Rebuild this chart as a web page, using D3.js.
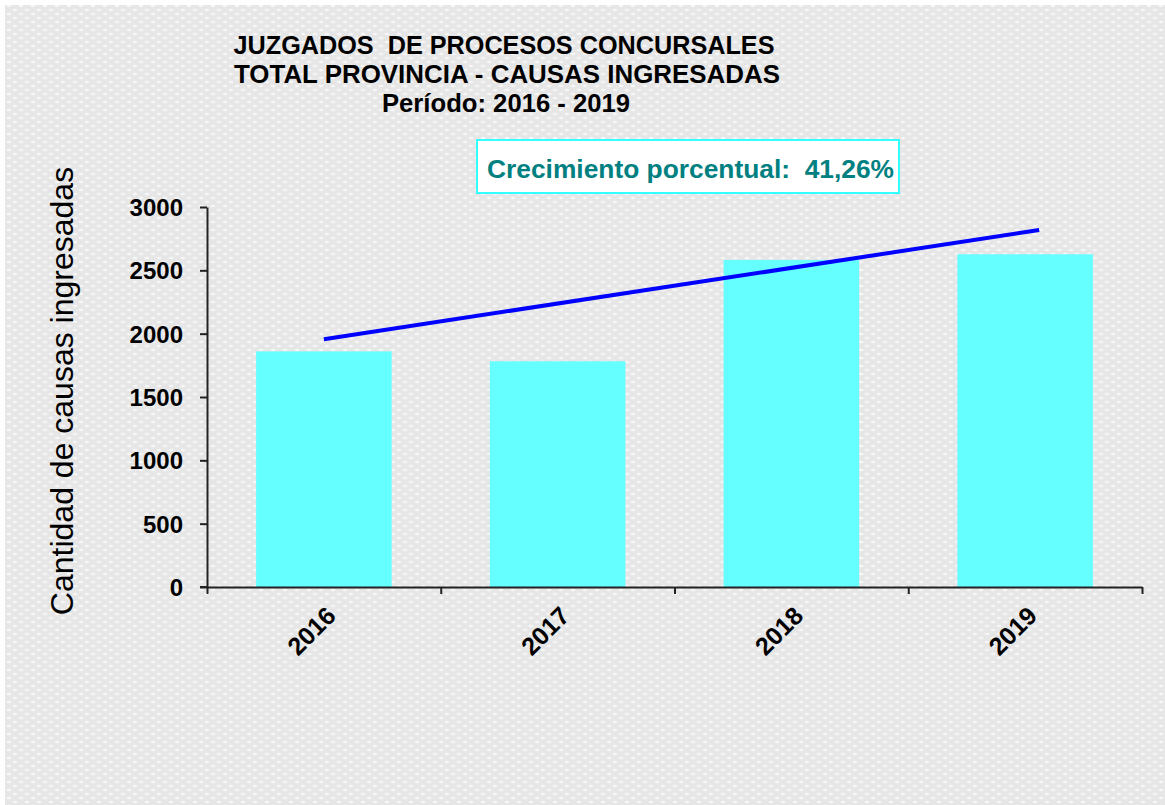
<!DOCTYPE html>
<html>
<head>
<meta charset="utf-8">
<script src="https://cdn.jsdelivr.net/npm/d3@7"></script>
<style>
  html, body { margin: 0; padding: 0; background: #fff; }
  svg text { font-family: "Liberation Sans", Arial, sans-serif; white-space: pre; }
</style>
</head>
<body>
<svg id="chart" width="1165" height="805"></svg>
<script>
// ---- data ----
const years = ["2016", "2017", "2018", "2019"];
const causas = [1860, 1782, 2582, 2627];
const yTicks = [0, 500, 1000, 1500, 2000, 2500, 3000];
const trendIndex = [0, 3.06];
const trendValues = [1956, 2818];
const titleLines = ["JUZGADOS  DE PROCESOS CONCURSALES", "TOTAL PROVINCIA - CAUSAS INGRESADAS", "Período: 2016 - 2019"];
const growthLabel = "Crecimiento porcentual:  41,26%";
const yLabel = "Cantidad de causas ingresadas";

(function () {
const svg = d3.select("#chart");

// background with dotted texture
const defs = svg.append("defs");
const pat = defs.append("pattern").attr("id", "bg").attr("patternUnits", "userSpaceOnUse")
  .attr("width", 12).attr("height", 8);
pat.append("rect").attr("width", 12).attr("height", 8).attr("fill", "#e6e6e6");
pat.append("ellipse").attr("cx", 3).attr("cy", 2).attr("rx", 2.5).attr("ry", 1.2).attr("fill", "#f6f6f6");
pat.append("ellipse").attr("cx", 9).attr("cy", 6).attr("rx", 2.5).attr("ry", 1.2).attr("fill", "#f6f6f6");
svg.append("rect").attr("x", 5).attr("y", 5).attr("width", 1160).attr("height", 800).attr("fill", "url(#bg)");

const pLeft = 207, pRight = 1142, pTop = 207, pBottom = 587;

const x = d3.scaleBand().domain(years).range([pLeft, pRight]).paddingInner(0.42).paddingOuter(0.21);
const xi = d3.scaleLinear().domain([-0.5, years.length - 0.5]).range([pLeft, pRight]);
const y = d3.scaleLinear().domain([0, 3000]).range([pBottom, pTop]);

// bars
svg.append("g").selectAll("rect").data(years).join("rect")
  .attr("x", d => x(d)).attr("width", x.bandwidth())
  .attr("y", (d, i) => y(causas[i])).attr("height", (d, i) => y(0) - y(causas[i]))
  .attr("fill", "#66ffff");

// trend line
const trend = trendIndex.map((t, i) => [xi(t), y(trendValues[i])]);
svg.append("path").attr("d", d3.line()(trend)).attr("stroke", "#0000ff").attr("stroke-width", 4)
  .attr("fill", "none");

// y axis
const gy = svg.append("g").attr("transform", `translate(${pLeft},0)`)
  .call(d3.axisLeft(y).tickValues(yTicks).tickSize(7).tickSizeOuter(0).tickPadding(17).tickFormat(d3.format("d")));
gy.selectAll("path, line").attr("stroke", "#222").attr("stroke-width", 2);
gy.selectAll("text").attr("font-size", 24).attr("font-weight", "bold").attr("fill", "#000")
  .attr("font-family", "Liberation Sans, Arial, sans-serif").attr("dy", "0.35em");

// x axis (ticks at category boundaries)
const gx = svg.append("g").attr("transform", `translate(0,${pBottom})`)
  .call(d3.axisBottom(xi).tickValues(d3.range(-0.5, years.length, 1)).tickSize(7).tickSizeOuter(0).tickFormat(""));
gx.selectAll("path, line").attr("stroke", "#222").attr("stroke-width", 2);
svg.append("line").attr("x1", pLeft - 7).attr("x2", pLeft).attr("y1", pBottom).attr("y2", pBottom)
  .attr("stroke", "#222").attr("stroke-width", 2);

// x labels rotated
svg.append("g").selectAll("text").data(years).join("text")
  .attr("transform", d => `translate(${x(d) + x.bandwidth() / 2 + 1},${pBottom + 18}) rotate(-45)`)
  .attr("text-anchor", "end").attr("font-size", 25).attr("font-weight", "bold")
  .attr("dy", "0.7em")
  .text(d => d);

// y label
svg.append("text").attr("transform", `translate(73,391) rotate(-90)`)
  .attr("text-anchor", "middle").attr("font-size", 32).attr("fill", "#000")
  .text(yLabel);

// title
const titleY = [54, 83, 112];
const titleX = [504, 507, 506];
const titleW = [541, 546, 248];
svg.append("g").selectAll("text").data(titleLines).join("text")
  .attr("x", (d, i) => titleX[i]).attr("y", (d, i) => titleY[i])
  .attr("text-anchor", "middle").attr("font-size", 25).attr("font-weight", "bold").attr("fill", "#000")
  .attr("textLength", (d, i) => titleW[i]).attr("lengthAdjust", "spacingAndGlyphs")
  .text(d => d);

// growth annotation box
svg.append("rect").attr("x", 477).attr("y", 140).attr("width", 422).attr("height", 53)
  .attr("fill", "#ffffff").attr("stroke", "#33ffff").attr("stroke-width", 2);
svg.append("text").attr("x", 690.5).attr("y", 178).attr("text-anchor", "middle")
  .attr("font-size", 25).attr("font-weight", "bold").attr("fill", "#008080")
  .attr("textLength", 407).attr("lengthAdjust", "spacingAndGlyphs")
  .text(growthLabel);
})();
</script>
</body>
</html>
